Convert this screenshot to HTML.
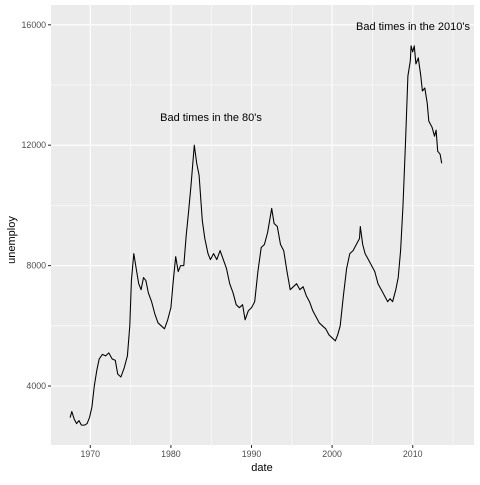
<!DOCTYPE html>
<html><head><meta charset="utf-8"><style>
html,body{margin:0;padding:0;background:#fff}
svg text{font-family:"Liberation Sans",Arial,sans-serif}
</style></head><body>
<svg id="chart" width="480" height="480" xmlns="http://www.w3.org/2000/svg">
<rect x="51" y="5" width="423" height="440" fill="#ebebeb"/>
<g id="grid"></g>
<g id="axes"></g>
<path id="line" fill="none" stroke="#000" stroke-width="1.07" stroke-linejoin="round"/>
<text x="211" y="121" font-size="11" text-anchor="middle" fill="#000">Bad times in the 80's</text>
<text x="413" y="30" font-size="11" text-anchor="middle" fill="#000">Bad times in the 2010's</text>
<text x="262" y="471" font-size="11" text-anchor="middle" fill="#000">date</text>
<text x="0" y="0" font-size="11" text-anchor="middle" fill="#000" transform="translate(15,240) rotate(-90)">unemploy</text>
</svg>
<script>
const years=[1967.5,1967.7,1968.0,1968.3,1968.6,1968.9,1969.3,1969.6,1969.9,1970.2,1970.5,1970.8,1971.1,1971.5,1971.9,1972.3,1972.7,1973.1,1973.4,1973.8,1974.2,1974.6,1974.9,1975.1,1975.4,1975.7,1976.0,1976.3,1976.6,1976.9,1977.2,1977.6,1978.0,1978.4,1978.8,1979.2,1979.6,1980.0,1980.3,1980.6,1980.9,1981.2,1981.6,1981.9,1982.2,1982.5,1982.9,1983.2,1983.5,1983.9,1984.2,1984.6,1984.9,1985.3,1985.7,1986.1,1986.5,1986.9,1987.3,1987.7,1988.1,1988.5,1988.9,1989.2,1989.6,1990.0,1990.4,1990.8,1991.2,1991.6,1992.0,1992.5,1992.8,1993.2,1993.6,1994.0,1994.4,1994.8,1995.2,1995.6,1996.0,1996.4,1996.8,1997.2,1997.6,1998.0,1998.4,1998.8,1999.2,1999.6,2000.0,2000.4,2000.7,2001.0,2001.4,2001.8,2002.2,2002.6,2003.0,2003.4,2003.5,2003.8,2004.1,2004.5,2004.9,2005.3,2005.7,2006.1,2006.5,2006.9,2007.2,2007.5,2007.9,2008.2,2008.5,2008.8,2009.1,2009.4,2009.7,2009.8,2010.0,2010.2,2010.4,2010.7,2011.0,2011.2,2011.5,2011.8,2012.0,2012.4,2012.7,2012.9,2013.1,2013.4,2013.6];
const unemploy=[2950,3150,2900,2750,2850,2700,2700,2750,2950,3300,4000,4500,4900,5050,5000,5100,4900,4850,4400,4300,4600,5000,6000,7500,8400,7900,7400,7200,7600,7500,7100,6800,6400,6100,6000,5900,6200,6600,7500,8300,7800,8000,8000,9000,9800,10700,12000,11400,11000,9500,8900,8400,8200,8400,8200,8500,8200,7900,7400,7100,6700,6600,6700,6200,6500,6600,6800,7800,8600,8700,9100,9900,9400,9300,8700,8500,7800,7200,7300,7400,7200,7300,7000,6800,6500,6300,6100,6000,5900,5700,5600,5500,5700,6000,7000,7900,8400,8500,8700,8900,9300,8700,8400,8200,8000,7800,7400,7200,7000,6800,6900,6800,7200,7600,8500,10000,12000,14300,14800,15300,15100,15300,14700,14900,14300,13800,13900,13400,12800,12600,12300,12500,11800,11700,11400];
const xTicks=[1970,1980,1990,2000,2010];
const xMinor=[1975,1985,1995,2005,2015];
const yTicks=[4000,8000,12000,16000];
const yMinor=[6000,10000,14000];
function sx(y){return 90.3+(y-1970)*8.06;}
function sy(v){return 386-(v-4000)*0.0301;}
const NS="http://www.w3.org/2000/svg";
const grid=document.getElementById('grid'),axes=document.getElementById('axes');
function ln(p,x1,y1,x2,y2,c,w){const l=document.createElementNS(NS,'line');l.setAttribute('x1',x1);l.setAttribute('y1',y1);l.setAttribute('x2',x2);l.setAttribute('y2',y2);l.setAttribute('stroke',c);l.setAttribute('stroke-width',w);p.appendChild(l);return l;}
function tx(p,x,y,s,a){const t=document.createElementNS(NS,'text');t.setAttribute('x',x);t.setAttribute('y',y);t.setAttribute('font-size','8.8');t.setAttribute('fill','#4d4d4d');t.setAttribute('text-anchor',a);t.textContent=s;p.appendChild(t);return t;}
yMinor.forEach(v=>{const l=ln(grid,51,sy(v),474,sy(v),'#fff',0.53);

});
xMinor.forEach(v=>{const l=ln(grid,sx(v),5,sx(v),445,'#fff',0.53);

});
yTicks.forEach(v=>{const l=ln(grid,51,sy(v),474,sy(v),'#fff',1.07);


const k=ln(axes,48,sy(v),51,sy(v),'#333',1.07);


const t=tx(axes,46,sy(v)+3,String(v),'end');

});
xTicks.forEach(v=>{const l=ln(grid,sx(v),5,sx(v),445,'#fff',1.07);


const k=ln(axes,sx(v),445,sx(v),448,'#333',1.07);


const t=tx(axes,sx(v),457,String(v),'middle');

});
document.getElementById('line').setAttribute('d',years.map((y,i)=>(i?'L':'M')+sx(y).toFixed(1)+','+sy(unemploy[i]).toFixed(1)).join(''));
</script>
</body></html>
